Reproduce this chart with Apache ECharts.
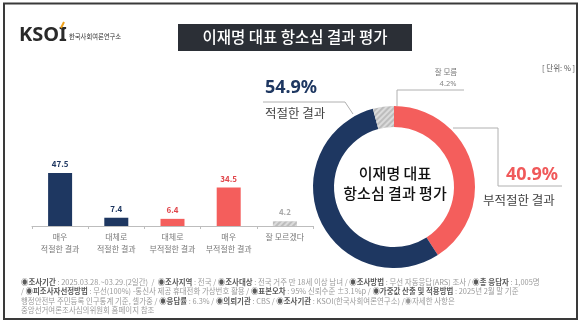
<!DOCTYPE html>
<html>
<head>
<meta charset="utf-8">
<script src="https://cdn.jsdelivr.net/npm/echarts@6/dist/echarts.min.js"></script>
<style>
  html, body { margin: 0; padding: 0; background: #fff; }
  #chart { width: 580px; height: 324px; }
</style>
</head>
<body>
<div id="chart"></div>
<script>
// Survey results: detailed answers (bars) and grouped answers (donut)
const barCategories = ['매우\n적절한 결과', '대체로\n적절한 결과', '대체로\n부적절한 결과', '매우\n부적절한 결과', '잘 모르겠다'];
const barValues = [47.5, 7.4, 6.4, 34.5, 4.2];
const barGroups = ['pos', 'pos', 'neg', 'neg', 'dk'];

const donutNames = ['부적절한 결과', '적절한 결과', '잘 모름'];
const donutValues = [40.9, 54.9, 4.2];
const donutGroups = ['neg', 'pos', 'dk'];

const titleText = '이재명 대표 항소심 결과 평가';
const unitText = '[ 단위: % ]';

const footerLines = [
  [['◉조사기간', ' : 2025.03.28.~03.29.(2일간)  /  '], ['◉조사지역', ' : 전국 / '], ['◉조사대상', ' : 전국 거주 만 18세 이상 남녀 / '], ['◉조사방법', ' : 무선 자동응답(ARS) 조사 / '], ['◉총 응답자', ' : 1,005명']],
  [['', '/ '], ['◉피조사자선정방법', ' : 무선(100%) -통신사 제공 휴대전화 가상번호 활용 / '], ['◉표본오차', ' : 95% 신뢰수준 ±3.1%p / '], ['◉가중값 산출 및 적용방법', ' : 2025년 2월 말 기준']],
  [['', '행정안전부 주민등록 인구통계 기준, 셀가중 / '], ['◉응답률', ' : 6.3% / '], ['◉의뢰기관', ' : CBS / '], ['◉조사기관', ' : KSOI(한국사회여론연구소) /'], ['', '◉자세한 사항은']],
  [['', '중앙선거여론조사심의위원회 홈페이지 참조']]
];

const FONT = '"Noto Sans CJK KR", "Noto Sans", sans-serif';
const fill = { pos: '#1e3761', neg: '#f45e5c', dk: '#bdbdbd' };
const labelFill = { pos: '#1e3761', neg: '#e0454a', dk: '#a8a8a8' };
const hatch = {
  symbol: 'rect', symbolSize: 1, dashArrayX: [1, 0], dashArrayY: [1.5, 2],
  rotation: -Math.PI / 4, color: 'rgba(255,255,255,0.45)'
};
const FOOT = 7.45;

const chart = echarts.init(document.getElementById('chart'), null, { renderer: 'canvas' });

const footerGraphics = footerLines.map((segs, i) => ({
  type: 'text', left: 21, top: 278.5 + i * 9.4, z: 10,
  style: {
    text: segs.map(([b, n]) => (b ? '{b|' + b + '}' : '') + '{n|' + n + '}').join(''),
    font: FOOT + 'px ' + FONT,
    rich: {
      b: { fontSize: FOOT, fontWeight: 'bold', fill: '#5a5a5a', fontFamily: FONT },
      n: { fontSize: FOOT, fill: '#9a9a9a', fontFamily: FONT }
    }
  }
}));

const lineStyle = { stroke: '#b0b0b0', lineWidth: 1, fill: null };

const option = {
  backgroundColor: '#ffffff',
  animation: false,
  grid: { left: 32, right: 267, top: 159, bottom: 98 },
  xAxis: {
    type: 'category',
    data: barCategories,
    axisLine: { lineStyle: { color: '#bdbdbd', width: 1 } },
    axisTick: { show: true, length: 3, lineStyle: { color: '#bdbdbd' } },
    axisLabel: { interval: 0, color: '#7a7a7a', fontSize: 8, lineHeight: 12, margin: 5, fontFamily: FONT }
  },
  yAxis: { type: 'value', min: 0, max: 60, show: false, splitLine: { show: false } },
  series: [
    {
      type: 'bar',
      barWidth: 24,
      silent: true,
      data: barValues.map((v, i) => ({
        value: v,
        itemStyle: { color: fill[barGroups[i]], decal: barGroups[i] === 'dk' ? hatch : null },
        label: { color: labelFill[barGroups[i]] }
      })),
      label: {
        show: true, position: 'top', distance: 5,
        fontSize: 8, fontWeight: 'bold', fontFamily: FONT
      }
    },
    {
      type: 'pie',
      center: [394, 187],
      radius: [60, 81],
      startAngle: 90,
      clockwise: true,
      silent: true,
      label: { show: false },
      labelLine: { show: false },
      data: donutValues.map((v, i) => ({
        name: donutNames[i],
        value: v,
        itemStyle: { color: fill[donutGroups[i]], decal: donutGroups[i] === 'dk' ? hatch : null }
      }))
    }
  ],
  graphic: [
    // frame
    { type: 'rect', shape: { x: 4, y: 3.5, width: 573, height: 315.5 }, style: { fill: null, stroke: '#3a3a3a', lineWidth: 2 }, z: 20 },
    // logo
    { type: 'text', left: 19, top: 25, style: { text: 'KSOI', font: 'bold 20px "Noto Sans", sans-serif', fill: '#2a2a2a' } },
    { type: 'polyline', shape: { points: [[61, 28], [64, 22]] }, style: { stroke: '#f0a21c', lineWidth: 2 } },
    { type: 'text', left: 69, top: 33, style: { text: '한국사회여론연구소', font: '6.3px ' + FONT, fill: '#333' } },
    // title box
    { type: 'rect', shape: { x: 178, y: 24, width: 234, height: 27 }, style: { fill: '#2b2f36' } },
    { type: 'text', x: 295, y: 37.5, style: { text: titleText, font: '500 15.5px ' + FONT, fill: '#ffffff', align: 'center', verticalAlign: 'middle' } },
    // unit
    { type: 'text', x: 575, y: 68, style: { text: unitText, font: '7.5px ' + FONT, fill: '#555', align: 'right', verticalAlign: 'middle' } },
    // donut centre text
    { type: 'text', x: 395, y: 173, style: { text: '이재명 대표', font: '500 15px ' + FONT, fill: '#111', align: 'center', verticalAlign: 'middle' } },
    { type: 'text', x: 395, y: 193, style: { text: '항소심 결과 평가', font: '500 15px ' + FONT, fill: '#111', align: 'center', verticalAlign: 'middle' } },
    // positive group label
    { type: 'text', x: 291, y: 88, style: { text: donutValues[1] + '%', font: 'bold 18px "Noto Sans", sans-serif', fill: fill.pos, align: 'center', verticalAlign: 'middle' } },
    { type: 'text', x: 265, y: 113, style: { text: donutNames[1], font: '12.5px ' + FONT, fill: '#444', align: 'left', verticalAlign: 'middle' } },
    { type: 'polyline', shape: { points: [[263, 102], [345, 102], [353, 114]] }, style: lineStyle },
    // don't-know label
    { type: 'text', x: 446, y: 72, style: { text: donutNames[2], font: '7.5px ' + FONT, fill: '#777', align: 'center', verticalAlign: 'middle' } },
    { type: 'text', x: 448, y: 84, style: { text: donutValues[2] + '%', font: '7.5px "Noto Sans", sans-serif', fill: '#888', align: 'center', verticalAlign: 'middle' } },
    { type: 'polyline', shape: { points: [[397, 106], [397, 90], [464, 90]] }, style: lineStyle },
    // negative group label
    { type: 'text', x: 532, y: 175, style: { text: donutValues[0] + '%', font: 'bold 18px "Noto Sans", sans-serif', fill: '#f0595a', align: 'center', verticalAlign: 'middle' } },
    { type: 'text', x: 483, y: 200, style: { text: donutNames[0], font: '12.5px ' + FONT, fill: '#444', align: 'left', verticalAlign: 'middle' } },
    { type: 'polyline', shape: { points: [[453, 128], [498, 128], [498, 186], [562, 186]] }, style: lineStyle }
  ].concat(footerGraphics)
};

chart.setOption(option);
</script>
</body>
</html>
